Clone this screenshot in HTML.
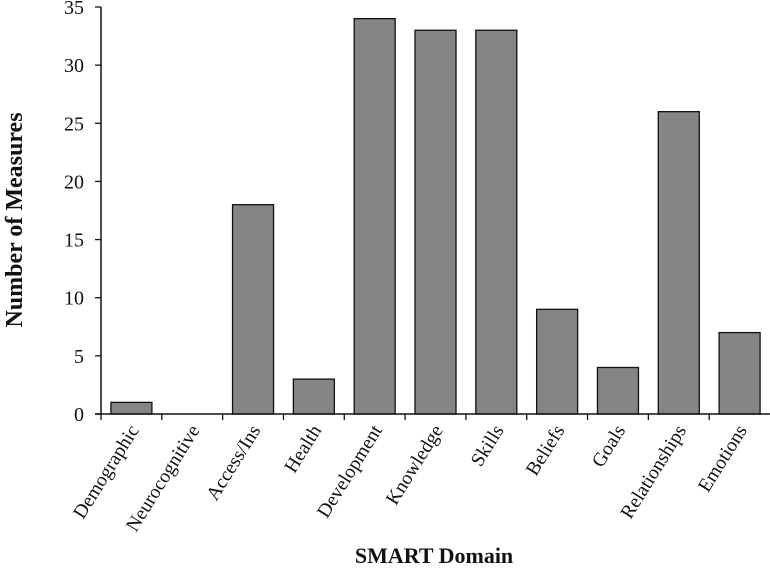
<!DOCTYPE html>
<html><head><meta charset="utf-8"><style>
body{margin:0;background:#fff}
svg text{font-family:"Liberation Serif",serif;fill:#111}
</style></head><body>
<svg width="770" height="570">
<g id="g"></g>
</svg>
<script>
const categories=["Demographic","Neurocognitive","Access/Ins","Health","Development","Knowledge","Skills","Beliefs","Goals","Relationships","Emotions"];
const values=[1,0,18,3,34,33,33,9,4,26,7];
const yTicks=[0,5,10,15,20,25,30,35];
const x0=101,x1=770,y0=414,yTop=7,yMax=35;
const band=(x1-x0)/categories.length;
const ys=v=>y0-(v/yMax)*(y0-yTop);
const NS="http://www.w3.org/2000/svg";
const g=document.getElementById('g');
function mk(t,a,txt){const e=document.createElementNS(NS,t);for(const k in a)e.setAttribute(k,a[k]);if(txt!=null)e.textContent=txt;g.appendChild(e);return e;}
values.forEach((v,i)=>{
 const bx=x0+i*band+band/2-20.5;
 const r=mk('rect',{x:bx,y:ys(v),width:41,height:y0-ys(v),fill:'#858585',stroke:'#111','stroke-width':1.3});
 
 
});
const ya=mk('line',{x1:x0,y1:yTop,x2:x0,y2:y0,stroke:'#111','stroke-width':1.5});


const xa=mk('line',{x1:x0-6,y1:y0,x2:x1,y2:y0,stroke:'#111','stroke-width':1.5});


yTicks.forEach(t=>{
 mk('line',{x1:x0-6,y1:ys(t),x2:x0,y2:ys(t),stroke:'#111','stroke-width':1.3});
 const l=mk('text',{x:84,y:ys(t)+7,'text-anchor':'end','font-size':20},t);
 
 
});
categories.forEach((c,i)=>{
 mk('line',{x1:x0+i*band,y1:y0,x2:x0+i*band,y2:y0+6,stroke:'#111','stroke-width':1.3});
 const cx=x0+i*band+band/2+8, cy=430;
 const l=mk('text',{x:cx,y:cy,'text-anchor':'end','font-size':19.5,transform:`rotate(-58 ${cx} ${cy})`},c);
 
 
});
const xt=mk('text',{x:434,y:563,'text-anchor':'middle','font-size':22,'font-weight':'bold'},'SMART Domain');


const yt=mk('text',{x:22,y:220,'text-anchor':'middle','font-size':24,'font-weight':'bold',transform:'rotate(-90 22 220)'},'Number of Measures');


</script>
</body></html>
